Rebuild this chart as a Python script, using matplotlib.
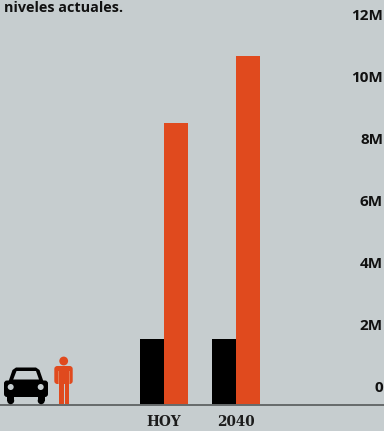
import matplotlib
matplotlib.use("Agg")
import matplotlib.pyplot as plt
import matplotlib.transforms as mtrans
from matplotlib.patches import Circle, FancyBboxPatch, Polygon, Rectangle

# Values in millions
categories = ["HOY", "2040"]
cars = [2.13, 2.13]
people = [9.1, 11.25]
tick_values = [0, 2, 4, 6, 8, 10, 12]
tick_labels = ["0", "2M", "4M", "6M", "8M", "10M", "12M"]

BG = "#c6cdcf"
ORANGE = "#e04a1e"
SANS = ["Open Sans", "DejaVu Sans"]

W, H = 384, 431
fig = plt.figure(figsize=((W + 0.01) / 100, (H + 0.01) / 100), dpi=100, facecolor=BG)

# Main axes fill the figure: 72 px between groups, 31 px per million
ax = fig.add_axes([0, 0, 1, 1], facecolor=BG)
ax.set_xlim(-164 / 72, (W - 164) / 72)
ax.set_ylim(-(H - 405) / 31, 405 / 31)

width = 24 / 72
x = list(range(len(categories)))
ax.bar([i - width / 2 for i in x], cars, width, color="black", linewidth=0, zorder=2)
ax.bar([i + width / 2 for i in x], people, width, color=ORANGE, linewidth=0, zorder=2)
ax.axhline(0, color="#666a6b", linewidth=1.4, zorder=3)

for s in ax.spines.values():
    s.set_visible(False)

# Category names sit under the baseline
ax.set_xticks(x)
ax.set_xticklabels([])
ax.tick_params(axis="x", length=0)
for i, c in zip(x, categories):
    ax.annotate(c, (i, 0), xytext=(0, -17 * 0.72), textcoords="offset points",
                ha="center", va="center", fontsize=9.8, fontweight="bold",
                family="DejaVu Serif", color="#1c1c1c")

# Scale labels on the right, raised above their levels
ax.yaxis.tick_right()
ax.set_yticks(tick_values)
ax.set_yticklabels(tick_labels, fontsize=11, fontweight="bold", family=SANS, color="#111111")
ax.tick_params(axis="y", length=0, pad=0, direction="in")
lift = mtrans.ScaledTranslation(-1 / 100, 19 / 100, fig.dpi_scale_trans)
for lab in ax.get_yticklabels():
    lab.set_ha("right")
    lab.set_x(1.0)
    lab.set_transform(lab.get_transform() + lift)

fig.text(4 / W, 1 - 8 / H, "niveles actuales.", fontsize=10.4, fontweight="bold",
         family=SANS, color="#111111", ha="left", va="center")

# Icon layer in pixel coordinates
ico = fig.add_axes([0, 0, 1, 1], facecolor="none")
ico.set_xlim(0, W)
ico.set_ylim(H, 0)
ico.axis("off")

# Car
ico.add_patch(Rectangle((7.2, 394), 7, 7, color="black", lw=0))
ico.add_patch(Rectangle((37.7, 394), 7, 7, color="black", lw=0))
ico.add_patch(Circle((10.7, 400.7), 3.5, color="black", lw=0))
ico.add_patch(Circle((41.2, 400.7), 3.5, color="black", lw=0))
ico.add_patch(FancyBboxPatch((6, 382.5), 40, 12.5, boxstyle="round,pad=2,rounding_size=3", color="black", lw=0))
ico.add_patch(Polygon([(8, 383), (12.5, 370), (16, 367.5), (36, 367.5), (39.5, 370), (44, 383)], color="black", lw=0))
ico.add_patch(Polygon([(13.2, 379.5), (16.5, 371), (36, 371), (39, 379.5)], color=BG, lw=0))
ico.add_patch(Circle((10.7, 387), 3, color=BG, lw=0))
ico.add_patch(Circle((40.7, 387), 3, color=BG, lw=0))

# Person
ico.add_patch(Circle((63.7, 361), 4.4, color=ORANGE, lw=0))
ico.add_patch(FancyBboxPatch((54.3, 366), 18.4, 18, boxstyle="round,pad=0,rounding_size=3", color=ORANGE, lw=0))
ico.add_patch(Rectangle((59, 380), 4.5, 24, color=ORANGE, lw=0))
ico.add_patch(Rectangle((64.5, 380), 4.5, 24, color=ORANGE, lw=0))
ico.add_patch(Rectangle((58.2, 371), 0.6, 13, color="#e27d58", lw=0))
ico.add_patch(Rectangle((69.2, 371), 0.6, 13, color="#e27d58", lw=0))

fig.savefig("out.png", dpi=100, facecolor=BG)
